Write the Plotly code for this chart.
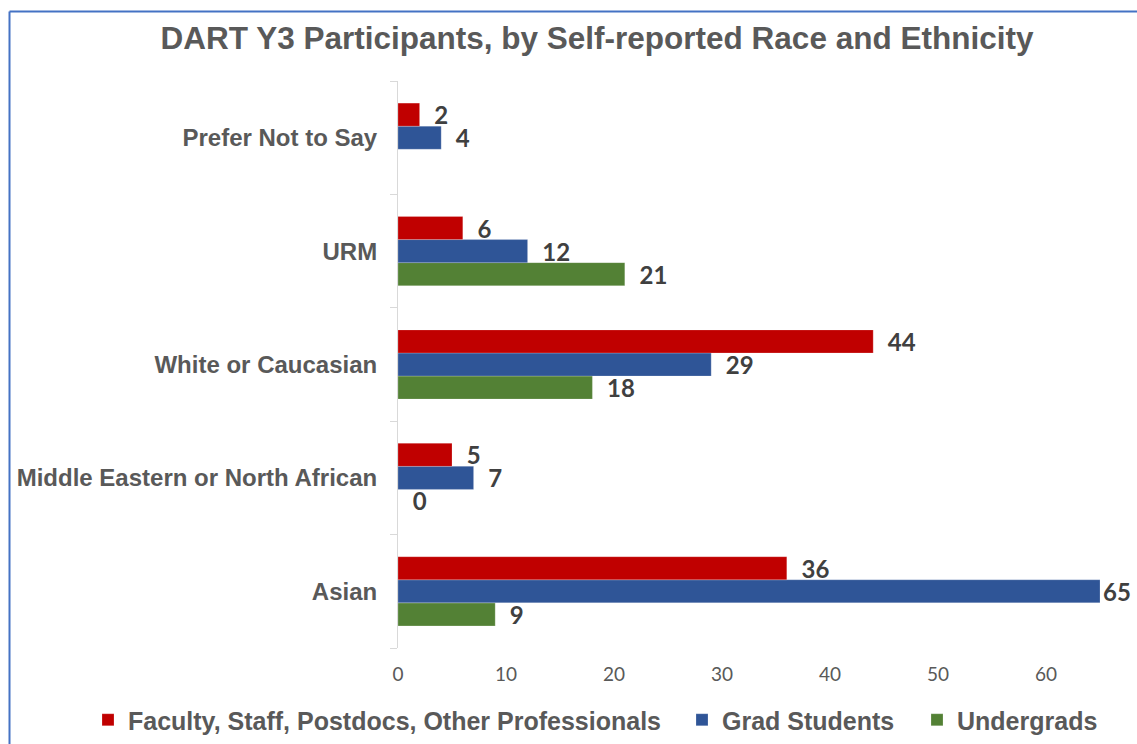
import plotly.graph_objects as go

# Race / ethnicity groups (bottom to top on the y axis)
categories = ["Asian", "Middle Eastern or North African", "White or Caucasian", "URM", "Prefer Not to Say"]

# Participant counts per group
faculty = [36, 5, 44, 6, 2]
grad = [65, 7, 29, 12, 4]
undergrad = [9, 0, 18, 21, None]

series_names = ["Faculty, Staff, Postdocs, Other Professionals", "Grad Students", "Undergrads"]
series_colors = ["#C00000", "#2F5597", "#538135"]

x_ticks = [0, 10, 20, 30, 40, 50, 60]

TITLE = "DART Y3 Participants, by Self-reported Race and Ethnicity"

GRAY = "#595959"
LABEL_GRAY = "#404040"

W, H = 1137, 744
L, R, T, B = 398, 0, 81, 96
pw = W - L - R
ph = H - T - B
X_MAX = pw / 10.8


def px_x(x):
    return (x - L) / pw


def px_y(y):
    return (H - B - y) / ph


def label_templates(vals):
    # labels near the right edge get no extra padding so they stay on the page
    return ["%{x}" if (v is not None and v > X_MAX - 4) else "\u00a0\u00a0%{x}" for v in vals]


fig = go.Figure()

# Added bottom-first so the first series sits on top within each group;
# each series gets its own legend box along the bottom edge
for name, vals, color, leg in [
    (series_names[2], undergrad, series_colors[2], "legend3"),
    (series_names[1], grad, series_colors[1], "legend2"),
    (series_names[0], faculty, series_colors[0], "legend"),
]:
    fig.add_trace(go.Bar(
        y=categories,
        x=vals,
        name=name,
        orientation="h",
        marker=dict(color=color, line=dict(color="rgba(255,255,255,0.35)", width=0.6)),
        texttemplate=label_templates(vals),
        textposition="outside",
        constraintext="none",
        textfont=dict(family="Lato", size=24, color=LABEL_GRAY, weight="bold"),
        cliponaxis=False,
        legend=leg,
        hoverinfo="x+name",
    ))

legend_font = dict(family="Liberation Sans", size=25, color=GRAY, weight="bold")


def legend_at(left_px):
    return dict(
        orientation="h",
        x=px_x(left_px),
        xanchor="left",
        y=px_y(720),
        yanchor="middle",
        font=legend_font,
        itemclick=False,
        bgcolor="rgba(0,0,0,0)",
    )


fig.update_layout(
    width=W,
    height=H,
    margin=dict(l=L, r=R, t=T, b=B, autoexpand=False),
    paper_bgcolor="white",
    plot_bgcolor="white",
    barmode="group",
    bargap=0.39,
    bargroupgap=0,
    title=dict(
        text=TITLE,
        x=597 / W,
        xanchor="center",
        y=1 - 38 / H,
        yanchor="middle",
        font=dict(family="Liberation Sans", size=31.5, color=GRAY, weight="bold"),
    ),
    xaxis=dict(
        range=[0, X_MAX],
        tickvals=x_ticks,
        showgrid=False,
        zeroline=False,
        showline=False,
        ticks="",
        tickfont=dict(family="Lato", size=19, color=GRAY),
        ticklabelstandoff=13,
    ),
    yaxis=dict(
        categoryorder="array",
        categoryarray=categories,
        showgrid=False,
        zeroline=False,
        showline=True,
        linecolor="#D9D9D9",
        linewidth=1,
        ticks="outside",
        tickson="boundaries",
        ticklen=7,
        tickcolor="#D9D9D9",
        tickfont=dict(family="Liberation Sans", size=24, color=GRAY, weight="bold"),
        ticklabelstandoff=15,
    ),
    legend=legend_at(88),
    legend2=legend_at(682),
    legend3=legend_at(917),
    showlegend=True,
    shapes=[
        dict(type="line", xref="paper", yref="paper",
             x0=px_x(9.5), x1=px_x(9.5), y0=px_y(11.5), y1=px_y(760),
             line=dict(color="#4472C4", width=2)),
        dict(type="line", xref="paper", yref="paper",
             x0=px_x(9.5), x1=px_x(1160), y0=px_y(11.5), y1=px_y(11.5),
             line=dict(color="#4472C4", width=2)),
    ],
)

fig.write_html("out.html")
